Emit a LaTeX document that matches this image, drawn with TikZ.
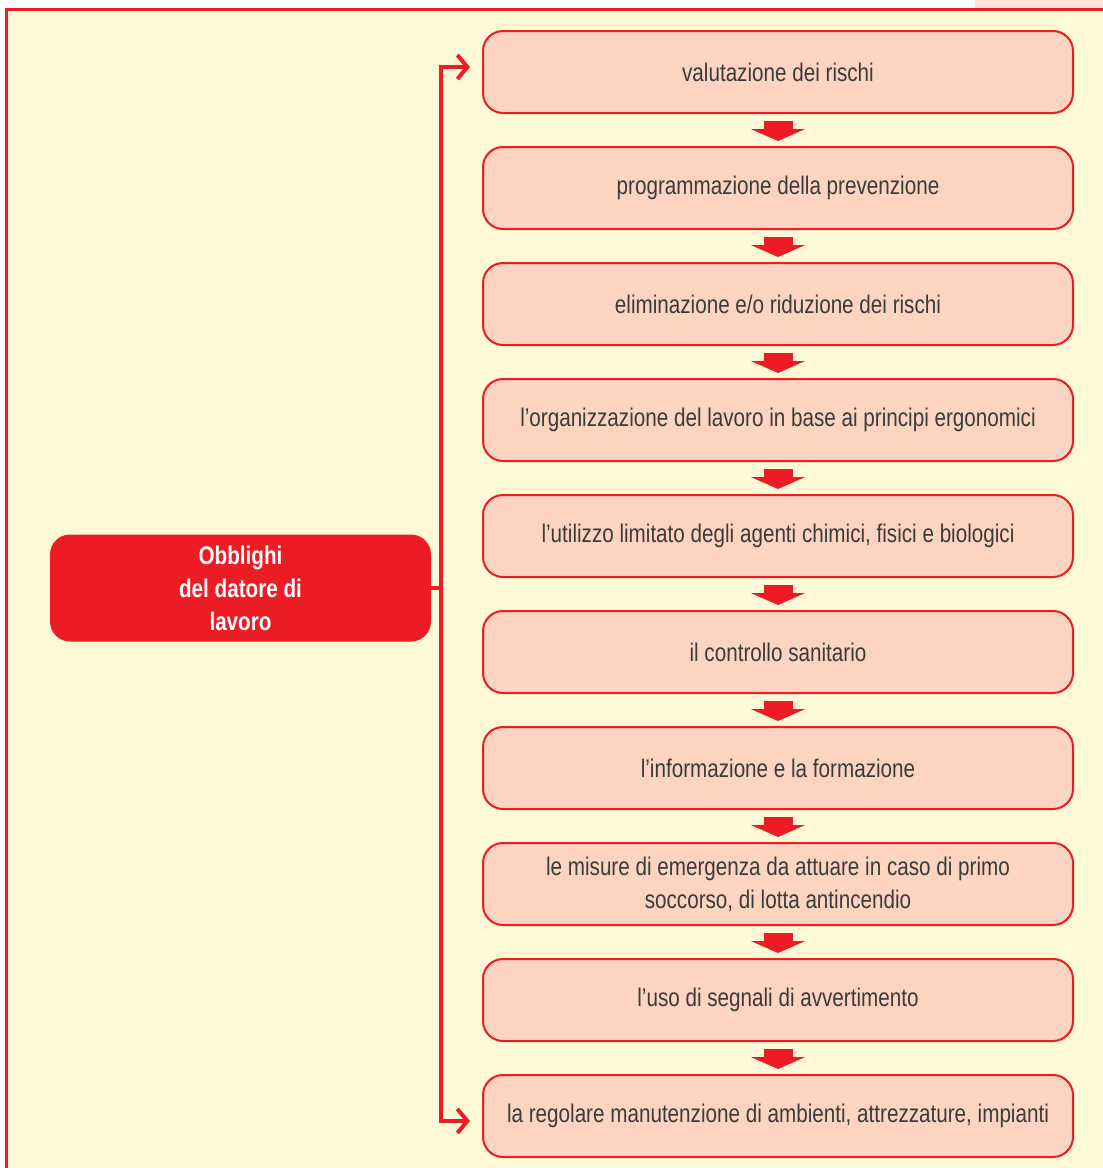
\documentclass[tikz,border=0pt]{standalone}
\usepackage{fontspec}
\setmainfont{Liberation Sans}[FakeStretch=0.81]
\usepackage{xcolor}
\usepackage{tikz}
\usetikzlibrary{arrows.meta, positioning, calc}

\definecolor{pagebg}{HTML}{FFF9D6}
\definecolor{boxfill}{HTML}{FCD4C1}
\definecolor{redline}{HTML}{ED1C24}
\definecolor{tabpink}{HTML}{FCE3D7}
\definecolor{textgray}{HTML}{3B3B3B}

\begin{document}
\begin{tikzpicture}[
    x=1pt, y=-1pt,
    node distance=32pt,
    stepbox/.style={rectangle, draw=redline, line width=2pt, fill=boxfill, rounded corners=20pt, minimum width=590pt, minimum height=82pt, text width=560pt, align=flush center, font=\fontsize{25.5}{33}\selectfont, text=textgray},
    mainbox/.style={rectangle, fill=redline, rounded corners=20pt, minimum width=381pt, minimum height=107pt, align=center, font=\fontsize{25.5}{33}\selectfont\bfseries, text=white},
    flow/.style={-{Triangle[width=54pt,length=12pt]}, line width=29pt, draw=redline, shorten <=7pt, shorten >=5pt},
    link/.style={line width=4pt, draw=redline},
    bracket/.style={{Straight Barb[length=10pt,width=24pt]}-{Straight Barb[length=10pt,width=24pt]}, line width=4pt, draw=redline, shorten <=12pt, shorten >=12pt}
]
    \useasboundingbox (0,0) rectangle (1103,1168);

    % Frame
    \fill[tabpink] (975,0) rectangle (1103,8);
    \fill[pagebg] (6,9) rectangle (1103,1168);
    \draw[redline, line width=3pt] (6.5,1168) -- (6.5,9.5) -- (1103,9.5);

    % Steps
    \node[stepbox] (b1) at (778,72) {valutazione dei rischi};
    \node[stepbox, below=of b1] (b2) {programmazione della prevenzione};
    \node[stepbox, below=of b2] (b3) {eliminazione e/o riduzione dei rischi};
    \node[stepbox, below=of b3] (b4) {l’organizzazione del lavoro in base ai principi ergonomici};
    \node[stepbox, below=of b4] (b5) {l’utilizzo limitato degli agenti chimici, fisici e biologici};
    \node[stepbox, below=of b5] (b6) {il controllo sanitario};
    \node[stepbox, below=of b6] (b7) {l’informazione e la formazione};
    \node[stepbox, below=of b7] (b8) {le misure di emergenza da attuare in caso di primo\\soccorso, di lotta antincendio};
    \node[stepbox, below=of b8] (b9) {l’uso di segnali di avvertimento};
    \node[stepbox, below=of b9] (b10) {la regolare manutenzione di ambienti, attrezzature, impianti};

    % Main topic
    \node[mainbox] (main) at (240.5,588) {Obblighi\\del datore di\\lavoro};
    \coordinate (spine) at (441,588);
    \coordinate (topin) at ($(b1.west)+(0,-5)$);
    \coordinate (botin) at ($(b10.west)+(0,5)$);

    % Arrows
    \draw[flow] (b1) -- (b2);
    \draw[flow] (b2) -- (b3);
    \draw[flow] (b3) -- (b4);
    \draw[flow] (b4) -- (b5);
    \draw[flow] (b5) -- (b6);
    \draw[flow] (b6) -- (b7);
    \draw[flow] (b7) -- (b8);
    \draw[flow] (b8) -- (b9);
    \draw[flow] (b9) -- (b10);
    \draw[link] (main.east) -- (spine);
    \draw[bracket] (topin) -- (topin -| spine) -- (botin -| spine) -- (botin);
\end{tikzpicture}
\end{document}
